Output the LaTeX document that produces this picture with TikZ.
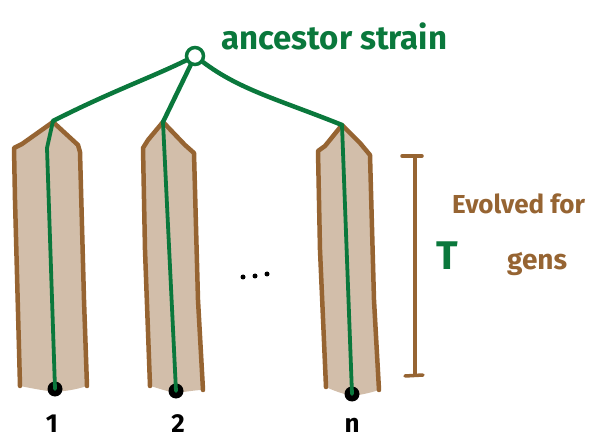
\documentclass[tikz,border=0pt]{standalone}
\usepackage{fontspec}
\setmainfont{Fira Sans}
\definecolor{grn}{RGB}{10,120,60}
\definecolor{brn}{RGB}{150,100,50}
\definecolor{tan}{RGB}{210,190,170}
\begin{document}
\begin{tikzpicture}[x=1pt,y=-1pt,
  colfill/.style={fill=tan,draw=none},
  coledge/.style={draw=brn,line width=4.5pt,line join=round,line cap=round},
  branch/.style={draw=grn,line width=4.5pt,line cap=round,line join=round},
  lineage/.style={draw=grn,line width=3.8pt,line cap=round,line join=round},
  leaf/.style={circle,fill=black,inner sep=0pt,minimum width=13pt,minimum height=15pt},
  ell/.style={circle,fill=black,inner sep=0pt,minimum size=5pt},
  lab/.style={font=\bfseries\fontsize{26}{26}\selectfont,text=black,inner sep=0pt},
  grntext/.style={text=grn,inner sep=0pt},
  brntext/.style={text=brn,inner sep=0pt}]
\useasboundingbox (0,0) rectangle (590,441);
% columns
\fill[colfill] (20,386) -- (14,148) -- (22,144) -- (53,122) -- (78,145) -- (80,150) -- (87,386)
  .. controls (75,390) and (65,391) .. (55,392) .. controls (40,390) and (30,388) .. (20,386) -- cycle;
\draw[coledge] (20,386) -- (15,200) -- (14,148) -- (22,144) -- (53,122) -- (78,145) -- (80,152) -- (84,300) -- (87,386);
\fill[colfill] (150,386) -- (143,148) -- (163,122) -- (185,145) -- (194,153) -- (203,390)
  .. controls (195,390) and (185,392) .. (176,393) .. controls (165,391) and (158,388) .. (150,386) -- cycle;
\draw[coledge] (150,386) -- (145,250) -- (143,148) -- (148,140) -- (163,122) -- (185,145) -- (194,153) -- (198,300) -- (203,390);
\fill[colfill] (326,387) -- (318,151) -- (342,125) -- (360,143) -- (370,155) -- (379,390)
  .. controls (370,393) and (360,395) .. (352,396) .. controls (340,393) and (332,390) .. (326,387) -- cycle;
\draw[coledge] (326,387) -- (320,250) -- (318,151) -- (325,146) -- (342,125) -- (360,143) -- (370,155) -- (374,300) -- (379,390);
% tree
\node[circle,draw=grn,line width=3.5pt,minimum size=17pt,inner sep=0pt] (root) at (195,56) {};
\coordinate (p1) at (53,121);
\coordinate (p2) at (163,122);
\coordinate (p3) at (342,125);
\draw[branch] (root) .. controls (150,78) and (110,92) .. (p1);
\draw[branch] (root) -- (p2);
\draw[branch] (root) .. controls (240,90) and (280,100) .. (p3);
\node[leaf] (l1) at (55,389) {};
\node[leaf] (l2) at (176,391) {};
\node[leaf] (l3) at (352,394) {};
\draw[lineage] (p1) -- (47,148) -- (l1.center);
\draw[lineage] (p2) -- (l2.center);
\draw[lineage] (p3) -- (l3.center);
% dots
\node[ell] (e1) at (243,277) {};
\node[ell] (e2) at (255,276) {};
\node[ell] (e3) at (267,274) {};
% labels
\node[lab,anchor=base] (n1) at (52,432) {1};
\node[lab,anchor=base] (n2) at (178,432) {2};
\node[lab,anchor=base] (n3) at (352,432) {n};
\node[grntext,font=\bfseries\fontsize{33}{33}\selectfont,anchor=base west] (anc) at (221,50) {ancestor strain};
% time bar
\coordinate (bt) at (415,156);
\coordinate (bb) at (415,375);
\draw[draw=brn,line width=3.5pt,line cap=round] (bt) -- (bb);
\draw[draw=brn,line width=3.5pt,line cap=round] (402,156) -- (422,156);
\draw[draw=brn,line width=3.5pt,line cap=round] (405,376) -- (423,375);
\node[brntext,font=\bfseries\fontsize{26}{26}\selectfont,anchor=base west] (evo) at (452,214) {Evolved for};
\node[text=grn,font=\bfseries\fontsize{40}{40}\selectfont,inner sep=0pt,anchor=base west] (T) at (436,270) {T};
\node[brntext,font=\bfseries\fontsize{28}{28}\selectfont,anchor=base west] (gens) at (507,270) {gens};
\end{tikzpicture}
\end{document}
